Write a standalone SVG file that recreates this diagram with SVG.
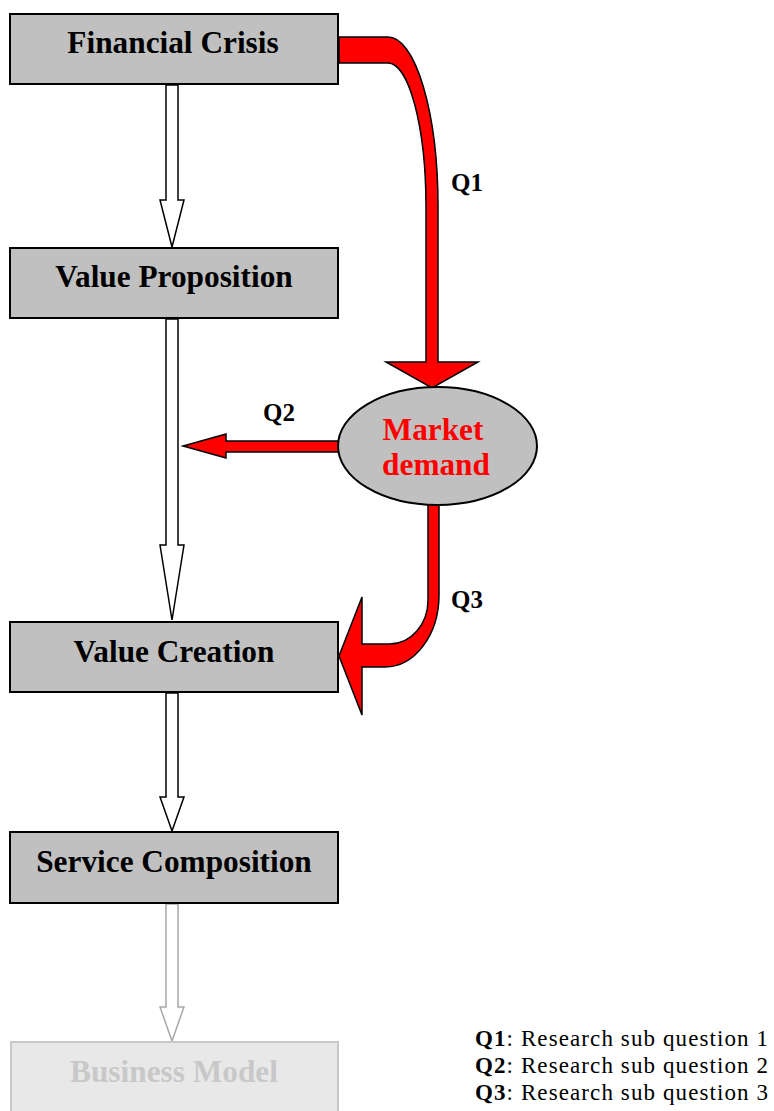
<svg xmlns="http://www.w3.org/2000/svg" width="774" height="1111" viewBox="0 0 774 1111">
<style>
.box{fill:#c0c0c0;stroke:#000;stroke-width:2}
.lbl{font-family:"Liberation Serif","Times New Roman",serif;font-weight:bold;font-size:31.3px;text-anchor:middle;fill:#000}
.hollow{fill:#fff;stroke:#000;stroke-width:1.5}
.red{fill:#f00;stroke:#000;stroke-width:1.5}
.q{font-family:"Liberation Serif","Times New Roman",serif;font-weight:bold;font-size:25px;fill:#000}
.leg{font-family:"Liberation Serif","Times New Roman",serif;font-size:23px;fill:#000}
</style>
<g id="connectors">
<path class="hollow" d="M166,85 L166,200 L160,200 L172,247 L184,200 L178,200 L178,85 Z"/>
<path class="hollow" d="M166,319 L166,545 L160,545 L172,620 L184,545 L178,545 L178,319 Z"/>
<path class="hollow" d="M166,693 L166,797 L160,797 L172,831 L184,797 L178,797 L178,693 Z"/>
<path class="hollow" style="stroke:#a8a8a8" d="M166,904 L166,1007 L160,1007 L172,1041 L184,1007 L178,1007 L178,904 Z"/>
<path class="red" d="M339,37 L388,37 A50,170 0 0 1 438,207 L438,362 L478,362 L432,388 L386,362 L426,362 L426,207 A38,144 0 0 0 388,63 L339,63 Z"/>
<path class="red" d="M345,441 L226,441 L226,434 L183,446 L226,458 L226,452 L345,452 Z"/>
<path class="red" d="M428,498 L428,600 A38,44 0 0 1 390,644 L362,644 L362,597 L339,656 L362,715 L362,667 L385,667 A54,72 0 0 0 439,595 L439,498 Z"/>
<text class="q" x="451" y="191">Q1</text>
<text class="q" x="263" y="421">Q2</text>
<text class="q" x="451" y="608">Q3</text>
</g>
<g id="financial-crisis">
<rect class="box" x="10" y="14" width="328" height="70"/>
<text class="lbl" x="173" y="53">Financial Crisis</text>
</g>
<g id="value-proposition">
<rect class="box" x="10" y="248" width="328" height="70"/>
<text class="lbl" x="174" y="287">Value Proposition</text>
</g>
<g id="market-demand">
<ellipse cx="437.5" cy="446" rx="99.5" ry="59" style="fill:#c0c0c0;stroke:#000;stroke-width:2"/>
<text class="lbl" x="433" y="440" style="fill:#f00">Market</text>
<text class="lbl" x="436" y="475" style="fill:#f00">demand</text>
</g>
<g id="value-creation">
<rect class="box" x="10" y="622" width="328" height="70"/>
<text class="lbl" x="174" y="662">Value Creation</text>
</g>
<g id="service-composition">
<rect class="box" x="10" y="832" width="328" height="71"/>
<text class="lbl" x="174" y="872">Service Composition</text>
</g>
<g id="business-model">
<rect x="11" y="1042" width="327" height="80" style="fill:#e8e8e8;stroke:#c8c8c8;stroke-width:2"/>
<text class="lbl" x="174" y="1082" style="fill:#c8c8c8">Business Model</text>
</g>
<g id="legend">
<text class="leg" x="475" y="1046" textLength="293"><tspan font-weight="bold">Q1</tspan>: Research sub question 1</text>
<text class="leg" x="475" y="1073" textLength="293"><tspan font-weight="bold">Q2</tspan>: Research sub question 2</text>
<text class="leg" x="475" y="1100" textLength="293"><tspan font-weight="bold">Q3</tspan>: Research sub question 3</text>
</g>
</svg>
